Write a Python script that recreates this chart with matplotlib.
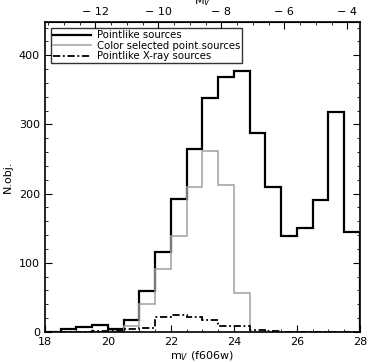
import numpy as np
from matplotlib import pyplot as plt
from matplotlib.ticker import MultipleLocator, FuncFormatter

# bin edges in m_V (f606w), step 0.5
edges = np.arange(18.0, 28.01, 0.5)

pointlike = [0, 4, 7, 10, 4, 18, 59, 116, 192, 265, 338, 368, 377, 287, 209, 139, 150, 191, 318, 145]
color_sel = [0, 0, 0, 0, 2, 8, 41, 91, 139, 210, 262, 213, 57, 0, 0, 0, 0, 0, 0, 0]
xray = [0, 0, 0, 1, 1, 4, 5, 22, 25, 22, 18, 8, 8, 3, 2, 0, 0, 0, 0, 0]

offset = 31.6  # m - M

plt.rcParams['font.family'] = 'DejaVu Sans'
plt.rcParams['font.size'] = 8

fig = plt.figure(figsize=(3.68, 3.62), dpi=100)
ax = fig.add_axes([0.122, 0.083, 0.856, 0.856])

ax.stairs(pointlike, edges, color="black", lw=1.6, label="Pointlike sources")
ax.stairs(color_sel, edges, color="#a0a0a0", lw=1.1, label="Color selected point.sources")
ax.stairs(xray, edges, color="black", lw=1.3, linestyle=(0, (4, 1.5, 1, 1.5)), label="Pointlike X-ray sources")

ax.set_xlim(18, 28)
ax.set_ylim(0, 448)
ax.xaxis.set_major_locator(MultipleLocator(2))
ax.xaxis.set_minor_locator(MultipleLocator(0.5))
ax.yaxis.set_major_locator(MultipleLocator(100))
ax.yaxis.set_minor_locator(MultipleLocator(20))
ax.tick_params(which="both", direction="in", top=False, right=True, colors="black")
ax.tick_params(which="major", length=5, width=0.8)
ax.tick_params(which="minor", length=2.5, width=0.6)
ax.set_xlabel(r"m$_V$ (f606w)", labelpad=2)
ax.set_ylabel("N.obj.", labelpad=4)
for s in ax.spines.values():
    s.set_linewidth(1.2)

top = ax.secondary_xaxis("top", functions=(lambda m: m - offset, lambda M: M + offset))
top.xaxis.set_major_locator(MultipleLocator(2))
top.xaxis.set_minor_locator(MultipleLocator(0.5))
top.xaxis.set_major_formatter(FuncFormatter(lambda v, p: ("\u2212 %d" % -round(v)) if v < 0 else "%d" % round(v)))
top.tick_params(which="both", direction="in")
top.tick_params(which="major", length=5, width=0.8)
top.tick_params(which="minor", length=2.5, width=0.6)
top.set_xlabel(r"M$_V$", labelpad=2)

leg = ax.legend(loc="upper left", fontsize=7.3, frameon=True, fancybox=False,
                edgecolor="black", handlelength=3.7, borderpad=0.2,
                labelspacing=0.05, borderaxespad=0.6, handletextpad=0.6)
leg.get_frame().set_linewidth(1.0)

plt.savefig("out.png", dpi=100)
